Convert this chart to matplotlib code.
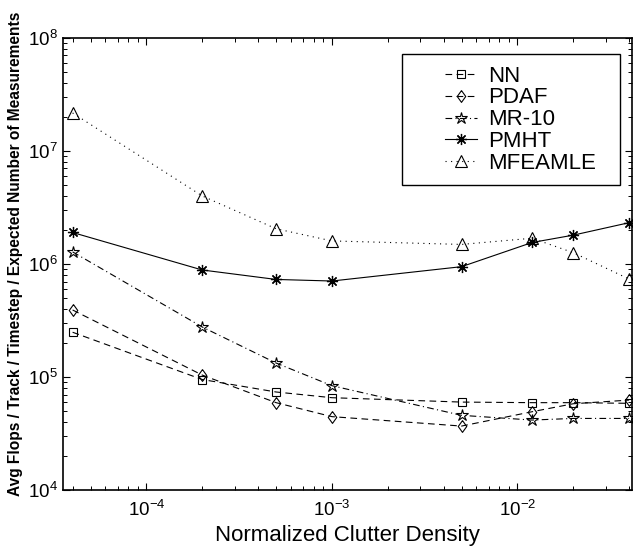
import numpy as np
import matplotlib
matplotlib.use('Agg')
import matplotlib.pyplot as plt
from matplotlib.patches import Rectangle

plt.rcParams['font.family'] = ['Liberation Sans', 'DejaVu Sans']
plt.rcParams['mathtext.default'] = 'regular'

# clutter density (x) and flops per series
density = [4e-5, 2e-4, 5e-4, 1e-3, 5e-3, 1.2e-2, 2e-2, 4e-2]
nn      = [2.49e5, 9.5e4, 7.37e4, 6.56e4, 6.0e4, 5.93e4, 5.93e4, 5.85e4]
pdaf    = [3.92e5, 1.04e5, 5.93e4, 4.46e4, 3.68e4, 4.93e4, 5.8e4, 6.25e4]
mr10    = [1.28e6, 2.77e5, 1.33e5, 8.38e4, 4.58e4, 4.16e4, 4.3e4, 4.3e4]
pmht    = [1.9e6, 8.85e5, 7.3e5, 7.07e5, 9.47e5, 1.55e6, 1.8e6, 2.32e6]
mfeamle = [2.17e7, 4.0e6, 2.05e6, 1.6e6, 1.49e6, 1.69e6, 1.26e6, 7.36e5]
names = ['NN', 'PDAF', 'MR-10', 'PMHT', 'MFEAMLE']

# MATLAB style diamond, a bit taller than wide
diamond = [(0, 1), (0.72, 0), (0, -1), (-0.72, 0), (0, 1)]

fig = plt.figure(figsize=(6.33, 5.48), dpi=100)
ax = fig.add_axes([0.0995, 0.1058, 0.899, 0.8249])

lw = 0.8
ax.plot(density, nn, color='k', lw=lw, ls=(0, (6, 4)), marker='s', ms=5.5, mfc='none', mec='k', mew=0.8, label=names[0])
ax.plot(density, pdaf, color='k', lw=lw, ls=(0, (6, 4)), marker=diamond, ms=8.5, mfc='none', mec='k', mew=0.8, label=names[1])
ax.plot(density, mr10, color='k', lw=lw, ls=(0, (6, 3, 1, 3)), marker='*', ms=9, mfc='none', mec='k', mew=0.8, label=names[2])
ax.plot(density, pmht, color='k', lw=lw, ls='-', marker=(8, 2, 0), ms=8, mec='k', mew=0.9, label=names[3])
ax.plot(density, mfeamle, color='k', lw=lw, ls=(0, (1, 4)), marker='^', ms=9, mfc='none', mec='k', mew=0.8, label=names[4])

ax.set_xscale('log')
ax.set_yscale('log')
ax.set_xlim(3.55e-5, 4.15e-2)
ax.set_ylim(1e4, 1e8)
ax.set_xticks([1e-4, 1e-3, 1e-2])
ax.set_yticks([1e4, 1e5, 1e6, 1e7, 1e8])

for s in ax.spines.values():
    s.set_linewidth(1.2)
ax.tick_params(which='both', direction='in', top=True, right=True, labelsize=13.5)
ax.tick_params(which='major', length=5, width=0.8)
ax.tick_params(which='minor', length=2.8, width=0.7)
ax.tick_params(axis='x', which='major', pad=7)

ax.set_xlabel('Normalized Clutter Density', fontsize=16, labelpad=4)
ax.set_ylabel('Avg Flops / Track / Timestep / Expected Number of Measurements',
              fontsize=11.2, fontweight='bold')
ax.yaxis.set_label_coords(-0.071, 0.522)

# legend, MATLAB style box drawn by hand
ax.add_patch(Rectangle((0.596, 0.6748), 0.383, 0.2898, transform=ax.transAxes,
                       facecolor='white', edgecolor='k', lw=1.0, zorder=5))
leg = ax.legend(loc='upper left', bbox_to_anchor=(0.671, 0.939), frameon=False,
                fontsize=16, handlelength=1.45, handletextpad=0.5, labelspacing=0.04,
                borderpad=0, borderaxespad=0)
leg.set_zorder(6)

fig.savefig('out.png', dpi=100)
